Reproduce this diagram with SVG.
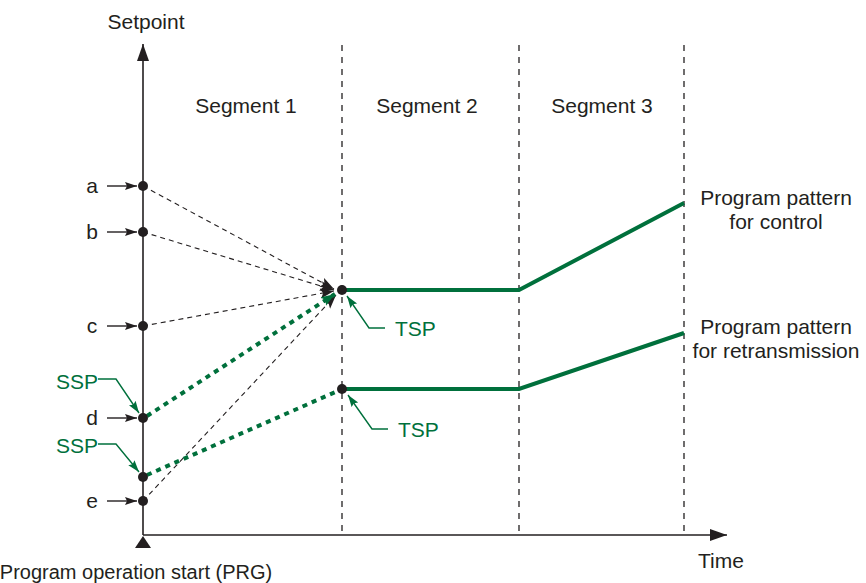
<svg xmlns="http://www.w3.org/2000/svg" width="866" height="583" viewBox="0 0 866 583">
<style>
text{font-family:"Liberation Sans",Arial,sans-serif;font-size:21px;fill:#231f20}
.g{fill:#00703c}
.axis{stroke:#231f20;stroke-width:1.6;fill:none}
.vd{stroke:#231f20;stroke-width:1.3;stroke-dasharray:6,6;fill:none}
.bd{stroke:#231f20;stroke-width:1.1;stroke-dasharray:5,4;fill:none}
.gd{stroke:#00703c;stroke-width:4;stroke-dasharray:5,5;fill:none}
.gl{stroke:#00703c;stroke-width:4;fill:none}
.lead{stroke:#00703c;stroke-width:1.4;fill:none}
.sa{stroke:#231f20;stroke-width:1.4;fill:none}
.dot{fill:#231f20}
</style>
<defs>
<marker id="ab" markerUnits="userSpaceOnUse" markerWidth="16" markerHeight="12" refX="14" refY="5" orient="auto"><path d="M0,0 L14,5 L0,10 L3,5 Z" fill="#231f20"/></marker>
<marker id="ag" markerUnits="userSpaceOnUse" markerWidth="16" markerHeight="12" refX="14" refY="5" orient="auto"><path d="M0,0 L14,5 L0,10 L3,5 Z" fill="#00703c"/></marker>
<marker id="as" markerUnits="userSpaceOnUse" markerWidth="14" markerHeight="10" refX="12" refY="4" orient="auto"><path d="M0,0 L12,4 L0,8 L2,4 Z" fill="#231f20"/></marker>
<marker id="asg" markerUnits="userSpaceOnUse" markerWidth="14" markerHeight="10" refX="12" refY="4" orient="auto"><path d="M0,0 L12,4 L0,8 L2,4 Z" fill="#00703c"/></marker>
<marker id="ax" markerUnits="userSpaceOnUse" markerWidth="20" markerHeight="14" refX="17" refY="6" orient="auto"><path d="M0,0 L17,6 L0,12 Z" fill="#231f20"/></marker>
</defs>

<g id="grid">
<line class="vd" x1="342" y1="45" x2="342" y2="534"/>
<line class="vd" x1="519" y1="45" x2="519" y2="534"/>
<line class="vd" x1="684" y1="45" x2="684" y2="534"/>
</g>

<g id="axes">
<line class="axis" x1="143" y1="535" x2="143" y2="44" marker-end="url(#ax)"/>
<line class="axis" x1="143" y1="535" x2="727" y2="535" marker-end="url(#ax)"/>
<path d="M143,536 L135,548 L151,548 Z" fill="#231f20"/>
<text x="146" y="29" text-anchor="middle">Setpoint</text>
<text x="721" y="568" text-anchor="middle">Time</text>
<text x="136" y="579" text-anchor="middle" style="font-size:20px">Program operation start (PRG)</text>
</g>

<g id="segments">
<text x="246" y="113" text-anchor="middle">Segment 1</text>
<text x="427" y="113" text-anchor="middle">Segment 2</text>
<text x="602" y="113" text-anchor="middle">Segment 3</text>
</g>

<g id="connectors">
<line class="bd" x1="143" y1="186" x2="334" y2="289" marker-end="url(#ab)"/>
<line class="bd" x1="143" y1="232" x2="334" y2="290" marker-end="url(#ab)"/>
<line class="bd" x1="143" y1="326" x2="334" y2="291" marker-end="url(#ab)"/>
<line class="bd" x1="143" y1="501" x2="336" y2="295" marker-end="url(#ab)"/>
<line class="gd" x1="147" y1="416" x2="335" y2="294" marker-end="url(#ag)"/>
<line class="gd" x1="147" y1="475" x2="340" y2="390"/>
<polyline class="gl" points="342,290 519,290 684,203"/>
<polyline class="gl" points="342,389 519,389 684,333"/>
</g>

<g id="point-a"><line class="sa" x1="107" y1="186" x2="137" y2="186" marker-end="url(#as)"/><circle class="dot" cx="143" cy="186" r="5"/><text x="92" y="193" text-anchor="middle">a</text></g>
<g id="point-b"><line class="sa" x1="107" y1="232" x2="137" y2="232" marker-end="url(#as)"/><circle class="dot" cx="143" cy="232" r="5"/><text x="92" y="239" text-anchor="middle">b</text></g>
<g id="point-c"><line class="sa" x1="107" y1="326" x2="137" y2="326" marker-end="url(#as)"/><circle class="dot" cx="143" cy="326" r="5"/><text x="92" y="333" text-anchor="middle">c</text></g>
<g id="point-d"><line class="sa" x1="107" y1="418" x2="137" y2="418" marker-end="url(#as)"/><circle class="dot" cx="143" cy="418" r="5"/><text x="92" y="425" text-anchor="middle">d</text></g>
<g id="point-ssp2"><circle class="dot" cx="143" cy="477" r="5"/></g>
<g id="point-e"><line class="sa" x1="107" y1="501" x2="137" y2="501" marker-end="url(#as)"/><circle class="dot" cx="143" cy="501" r="5"/><text x="92" y="508" text-anchor="middle">e</text></g>

<g id="ssp1"><polyline class="lead" points="98,379 116,379 139,413" marker-end="url(#asg)"/><text class="g" x="77" y="389" text-anchor="middle">SSP</text></g>
<g id="ssp2"><polyline class="lead" points="98,444 116,444 139,472" marker-end="url(#asg)"/><text class="g" x="77" y="453" text-anchor="middle">SSP</text></g>

<g id="tsp1"><circle class="dot" cx="342" cy="290" r="5"/><polyline class="lead" points="385,328 369,328 347,296" marker-end="url(#asg)"/><text class="g" x="395" y="336">TSP</text></g>
<g id="tsp2"><circle class="dot" cx="342" cy="389" r="5"/><polyline class="lead" points="388,429 372,429 348,395" marker-end="url(#asg)"/><text class="g" x="398" y="437">TSP</text></g>

<g id="label-control">
<text x="776" y="205" text-anchor="middle">Program pattern</text>
<text x="776" y="229" text-anchor="middle">for control</text>
</g>
<g id="label-retrans">
<text x="776" y="334" text-anchor="middle">Program pattern</text>
<text x="776" y="358" text-anchor="middle">for retransmission</text>
</g>
</svg>
